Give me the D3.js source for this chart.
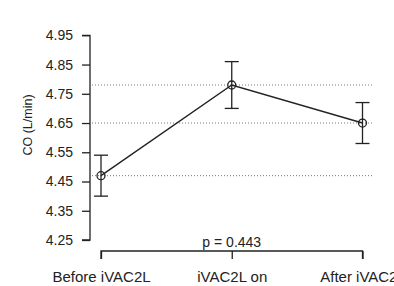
<!DOCTYPE html>
<meta charset="utf-8">
<script src="https://d3js.org/d3.v7.min.js"></script>
<style>
  body { margin: 0; background: #fff; }
  text { font-family: "Liberation Sans", Arial, sans-serif; fill: #222; }
</style>
<body>
</body>
<script>
  var groups = ["Before iVAC2L", "iVAC2L on", "After iVAC2L"];
  var means = [4.47, 4.78, 4.65];
  var upper = [4.54, 4.86, 4.72];
  var lower = [4.40, 4.70, 4.58];
  var yTicks = [4.25, 4.35, 4.45, 4.55, 4.65, 4.75, 4.85, 4.95];
  var pLabel = "p = 0.443";

  var width = 394, height = 286;

  var svg = d3.select("body").append("svg")
    .attr("width", width)
    .attr("height", height);

  var x = d3.scalePoint()
    .domain(groups)
    .range([101, 362.5]);

  var y = d3.scaleLinear()
    .domain([4.25, 4.95])
    .range([240, 35.3]);

  // y axis
  var yAxis = d3.axisLeft(y)
    .tickValues(yTicks)
    .tickFormat(d3.format(".2f"))
    .tickSize(8)
    .tickPadding(9);

  var gy = svg.append("g")
    .attr("transform", "translate(90,0)")
    .call(yAxis);
  gy.select(".domain").attr("stroke", "#222").attr("stroke-width", 1.3)
    .attr("d", "M-8," + y(4.95) + "H0V" + y(4.25) + "H-8");
  gy.selectAll(".tick line").attr("stroke", "#222").attr("stroke-width", 1.3);
  gy.selectAll(".tick text").style("font-size", "14px").attr("fill", "#222")
    .style("font-family", "'Liberation Sans', Arial, sans-serif");

  svg.append("text")
    .attr("transform", "translate(32,125) rotate(-90)")
    .attr("text-anchor", "middle")
    .style("font-size", "12.5px")
    .text("CO (L/min)");

  // dotted reference lines at each mean
  svg.selectAll(".ref")
    .data(means).enter().append("line")
    .attr("class", "ref")
    .attr("x1", 92).attr("x2", 372)
    .attr("y1", d => y(d)).attr("y2", d => y(d))
    .attr("stroke", "#777")
    .attr("stroke-width", 1)
    .attr("stroke-dasharray", "1,2");

  // error bars
  var cap = 7;
  var eb = svg.selectAll(".eb")
    .data(groups).enter().append("g")
    .attr("class", "eb")
    .attr("stroke", "#222")
    .attr("stroke-width", 1.3);
  eb.append("line")
    .attr("x1", d => x(d)).attr("x2", d => x(d))
    .attr("y1", (d, i) => y(upper[i])).attr("y2", (d, i) => y(lower[i]));
  eb.append("line")
    .attr("x1", d => x(d) - cap).attr("x2", d => x(d) + cap)
    .attr("y1", (d, i) => y(upper[i])).attr("y2", (d, i) => y(upper[i]));
  eb.append("line")
    .attr("x1", d => x(d) - cap).attr("x2", d => x(d) + cap)
    .attr("y1", (d, i) => y(lower[i])).attr("y2", (d, i) => y(lower[i]));

  // mean line
  var line = d3.line()
    .x((d, i) => x(groups[i]))
    .y(d => y(d));
  svg.append("path")
    .datum(means)
    .attr("d", line)
    .attr("fill", "none")
    .attr("stroke", "#222")
    .attr("stroke-width", 1.4);

  svg.selectAll(".pt")
    .data(means).enter().append("circle")
    .attr("class", "pt")
    .attr("cx", (d, i) => x(groups[i]))
    .attr("cy", d => y(d))
    .attr("r", 4)
    .attr("fill", "none")
    .attr("stroke", "#222")
    .attr("stroke-width", 1.3);

  // bottom bracket as x axis
  var xAxis = d3.axisBottom(x).tickSize(8).tickPadding(12);
  var gx = svg.append("g")
    .attr("transform", "translate(0,251)")
    .call(xAxis);
  gx.select(".domain").attr("stroke", "#222").attr("stroke-width", 1.3)
    .attr("d", "M" + x(groups[0]) + ",8V0H" + x(groups[2]) + "V8");
  gx.selectAll(".tick line").attr("stroke", "#222").attr("stroke-width", 1.3);
  gx.selectAll(".tick text").style("font-size", "15px").attr("fill", "#222")
    .style("font-family", "'Liberation Sans', Arial, sans-serif");

  svg.append("text")
    .attr("x", x(groups[1]))
    .attr("y", 247)
    .attr("text-anchor", "middle")
    .style("font-size", "14px")
    .text(pLabel);
</script>
